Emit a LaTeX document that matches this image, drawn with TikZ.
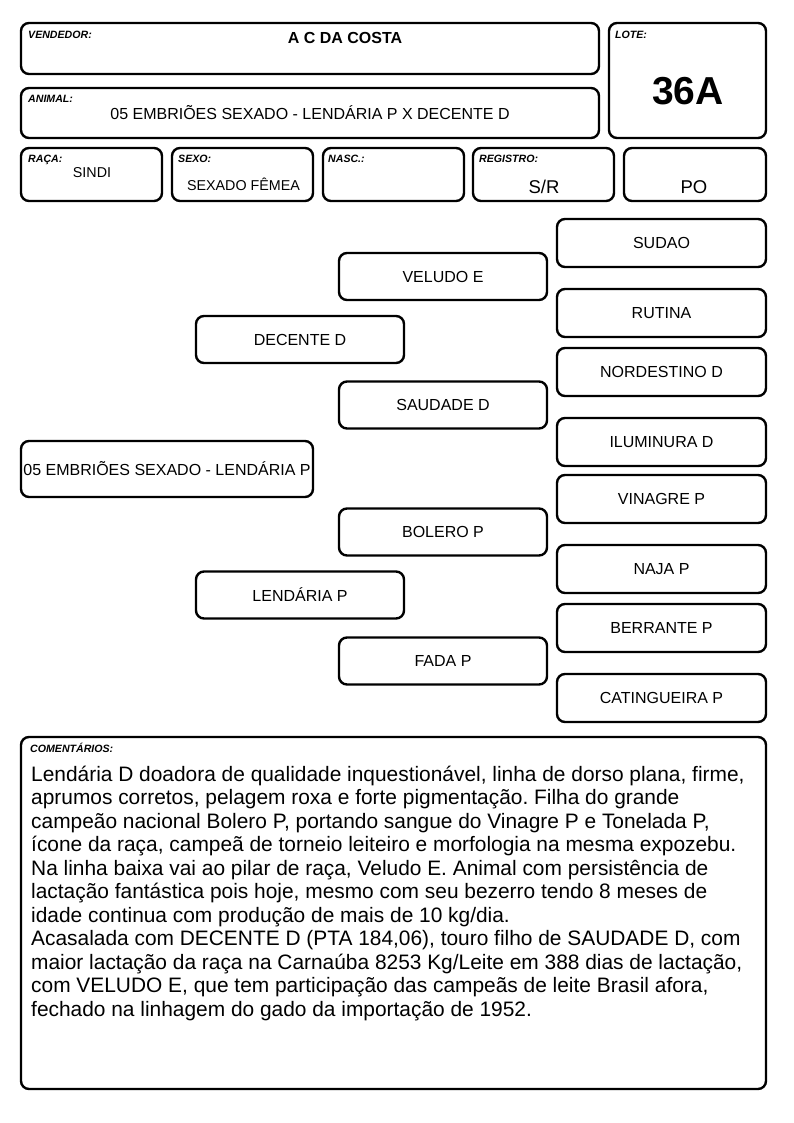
\documentclass[tikz,border=0pt]{standalone}
\usepackage{fontspec}
\setmainfont{Liberation Sans}
\frenchspacing
\begin{document}
\begin{tikzpicture}[x=1pt,y=-1pt,
  box/.style={draw, line width=2.4pt, rounded corners=8pt, inner sep=0pt, font=\fontsize{16}{18}\selectfont},
  lbl/.style={anchor=base west, inner sep=0pt, font=\fontsize{10.6}{12}\selectfont\bfseries\itshape},
  val/.style={inner sep=0pt, font=\fontsize{16}{18}\selectfont},
  sval/.style={inner sep=0pt, font=\fontsize{14.3}{16}\selectfont},
  bval/.style={inner sep=0pt, font=\fontsize{18.5}{21}\selectfont},
  cline/.style={anchor=base west, inner sep=0pt, font=\fontsize{20.9}{23.5}\selectfont}]
\useasboundingbox (0,0) rectangle (794,1123);
% header boxes
\node[box, minimum width=578, minimum height=51] (vend) at (310,48.5) {};
\node[box, minimum width=157, minimum height=115] (lote) at (687.5,80.5) {};
\node[box, minimum width=578, minimum height=50] (anim) at (310,113) {};
\node[box, minimum width=141, minimum height=53] (raca) at (91.5,174.5) {};
\node[box, minimum width=141, minimum height=53] (sexo) at (242.5,174.5) {};
\node[box, minimum width=141, minimum height=53] (nasc) at (393.5,174.5) {};
\node[box, minimum width=141, minimum height=53] (reg) at (543.5,174.5) {};
\node[box, minimum width=142, minimum height=53] (po) at (695,174.5) {};
% labels
\node[lbl] (lvend) at (28,39) {VENDEDOR:};
\node[lbl] (llote) at (615,39) {LOTE:};
\node[lbl] (lanim) at (28,103) {ANIMAL:};
\node[lbl] (lraca) at (28,163) {RAÇA:};
\node[lbl] (lsexo) at (178,163) {SEXO:};
\node[lbl] (lnasc) at (328,163) {NASC.:};
\node[lbl] (lreg) at (479,163) {REGISTRO:};
% values
\node[val, font=\fontsize{16}{18}\selectfont\bfseries] (vvend) at (345,38) {A C DA COSTA};
\node[val, font=\fontsize{39}{44}\selectfont\bfseries] (vlote) at (688,91) {36A};
\node[val] (vanim) at (310,113) {05 EMBRIÕES SEXADO - LENDÁRIA P X DECENTE D};
\node[sval] (vraca) at (92,173) {SINDI};
\node[sval] (vsexo) at (243.5,184) {SEXADO FÊMEA};
\node[bval] (vreg) at (544,187) {S/R};
\node[bval] (vpo) at (694,187) {PO};
% pedigree
\node[box, minimum width=292, minimum height=56] (p0) at (167,469) {05 EMBRIÕES SEXADO - LENDÁRIA P};
\node[box, minimum width=208, minimum height=47] (p1) at (300,339.5) {DECENTE D};
\node[box, minimum width=208, minimum height=47] (p2) at (300,595) {LENDÁRIA P};
\node[box, minimum width=208, minimum height=47] (p3) at (443,276.5) {VELUDO E};
\node[box, minimum width=208, minimum height=47] (p4) at (443,405) {SAUDADE D};
\node[box, minimum width=208, minimum height=47] (p5) at (443,532) {BOLERO P};
\node[box, minimum width=208, minimum height=47] (p6) at (443,661) {FADA P};
\node[box, minimum width=209, minimum height=48] (p7) at (661.5,243) {SUDAO};
\node[box, minimum width=209, minimum height=48] (p8) at (661.5,313) {RUTINA};
\node[box, minimum width=209, minimum height=48] (p9) at (661.5,372) {NORDESTINO D};
\node[box, minimum width=209, minimum height=48] (p10) at (661.5,442) {ILUMINURA D};
\node[box, minimum width=209, minimum height=48] (p11) at (661.5,499) {VINAGRE P};
\node[box, minimum width=209, minimum height=48] (p12) at (661.5,569) {NAJA P};
\node[box, minimum width=209, minimum height=48] (p13) at (661.5,628) {BERRANTE P};
\node[box, minimum width=209, minimum height=48] (p14) at (661.5,698) {CATINGUEIRA P};
% comments
\node[box, minimum width=745, minimum height=352] (com) at (393.5,913) {};
\node[lbl] (lcom) at (30,752) {COMENTÁRIOS:};
\node[cline] (c1) at (31,781) {Lendária D doadora de qualidade inquestionável, linha de dorso plana, firme,};
\node[cline] (c2) at (31,804.5) {aprumos corretos, pelagem roxa e forte pigmentação. Filha do grande};
\node[cline] (c3) at (31,828) {campeão nacional Bolero P, portando sangue do Vinagre P e Tonelada P,};
\node[cline] (c4) at (31,851.5) {ícone da raça, campeã de torneio leiteiro e morfologia na mesma expozebu.};
\node[cline] (c5) at (31,875) {Na linha baixa vai ao pilar de raça, Veludo E. Animal com persistência de};
\node[cline] (c6) at (31,898.5) {lactação fantástica pois hoje, mesmo com seu bezerro tendo 8 meses de};
\node[cline] (c7) at (31,922) {idade continua com produção de mais de 10 kg/dia.};
\node[cline] (c8) at (31,945.5) {Acasalada com DECENTE D (PTA 184,06), touro filho de SAUDADE D, com};
\node[cline] (c9) at (31,969) {maior lactação da raça na Carnaúba 8253 Kg/Leite em 388 dias de lactação,};
\node[cline] (c10) at (31,992.5) {com VELUDO E, que tem participação das campeãs de leite Brasil afora,};
\node[cline] (c11) at (31,1016) {fechado na linhagem do gado da importação de 1952.};
\end{tikzpicture}
\end{document}
